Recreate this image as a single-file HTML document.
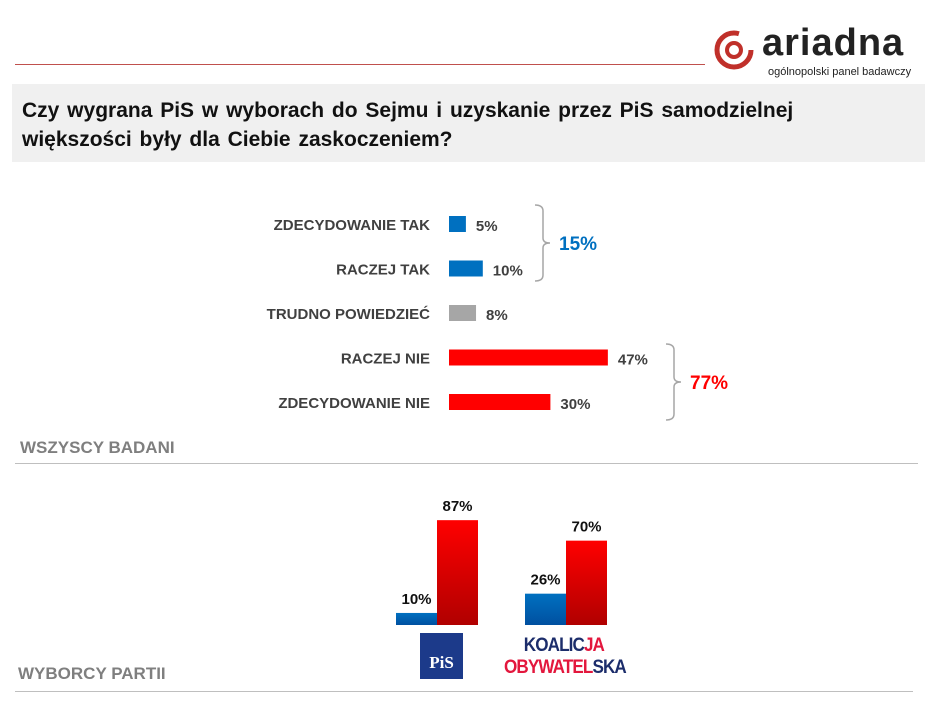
<!DOCTYPE html>
<html><head><meta charset="utf-8"><style>
body{margin:0;width:934px;height:704px;background:#fff;font-family:"Liberation Sans",sans-serif;overflow:hidden;position:relative}
.a{position:absolute}
</style></head><body>
<div class="a" style="left:15px;top:64px;width:690px;height:1px;background:#c0504d"></div>
<div class="a" style="left:712px;top:28px;width:215px;height:50px">
<svg width="50" height="46" style="position:absolute;left:0;top:0"><circle cx="22" cy="22" r="17" fill="none" stroke="#c0302a" stroke-width="5" stroke-dasharray="85 22"/><circle cx="22" cy="22" r="7" fill="none" stroke="#c0302a" stroke-width="4"/></svg>
<div class="a" style="left:50px;top:-6px;font-size:38px;font-weight:bold;color:#222;letter-spacing:1px">ariadna</div>
<div class="a" style="left:56px;top:38px;font-size:11px;color:#222">ogólnopolski panel badawczy</div>
</div>
<div class="a" style="left:12px;top:84px;width:913px;height:78px;background:#f0f0f0"></div>
<div class="a" style="left:22px;top:96px;width:900px;font-size:21px;font-weight:bold;color:#111;line-height:29px;word-spacing:2px">Czy wygrana PiS w wyborach do Sejmu i uzyskanie przez PiS samodzielnej<br>większości były dla Ciebie zaskoczeniem?</div>
<svg id="c1" class="a" style="left:0;top:0" width="934" height="704"></svg>
<div class="a" style="left:20px;top:438px;font-size:17px;font-weight:bold;color:#7f7f7f">WSZYSCY BADANI</div>
<div class="a" style="left:15px;top:463px;width:903px;height:1px;background:#bfbfbf"></div>
<div class="a" style="left:18px;top:664px;font-size:17px;font-weight:bold;color:#7f7f7f">WYBORCY PARTII</div>
<div class="a" style="left:15px;top:691px;width:898px;height:1px;background:#bfbfbf"></div>
<div class="a" style="left:420px;top:633px;width:43px;height:46px;background:#1c3a8a;color:#fff;font-family:'Liberation Serif',serif;font-weight:bold;font-size:17px;text-align:center;line-height:60px">PiS</div>
<div class="a" style="left:504px;top:635px;font-size:19px;font-weight:bold;line-height:22px;letter-spacing:-1px;transform:scaleX(0.9);transform-origin:left top"><span style="color:#1c2d6b;margin-left:22px">KOALIC</span><span style="color:#e3173d">JA</span><br><span style="color:#e3173d">OBYWATEL</span><span style="color:#1c2d6b">SKA</span></div>
<script>
const cats=["ZDECYDOWANIE  TAK","RACZEJ TAK","TRUDNO  POWIEDZIEĆ","RACZEJ NIE","ZDECYDOWANIE  NIE"];
const vals=[5,10,8,47,30];
const colors=["#0070c0","#0070c0","#a6a6a6","#ff0000","#ff0000"];
const groupTotals=[15,77];
const parties=["PiS","KO"];
const yesVals=[10,26];
const noVals=[87,70];
const ns="http://www.w3.org/2000/svg";
const svg=document.getElementById('c1');
function mk(t,a){const e=document.createElementNS(ns,t);for(const k in a)e.setAttribute(k,a[k]);svg.appendChild(e);return e;}
const x0=449,sx=3.38;
const yRow=i=>224+i*44.5;
cats.forEach((c,i)=>{
 const y=yRow(i);
 let r=mk('rect',{x:x0,y:y-8,width:vals[i]*sx,height:16,fill:colors[i]});
 
 
 let t=mk('text',{x:430,y:y+6,'text-anchor':'end','font-size':15,'font-weight':'bold',fill:'#404040','xml:space':'preserve'});t.textContent=c;
 
 
 let v=mk('text',{x:x0+vals[i]*sx+10,y:y+7,'font-size':15,'font-weight':'bold',fill:'#404040'});v.textContent=vals[i]+'%';
 
 
});
function brace(x,y1,y2,col,val){
 const ym=(y1+y2)/2;
 let p=mk('path',{d:`M${x-8},${y1} Q${x},${y1} ${x},${y1+6} L${x},${ym-5} Q${x},${ym} ${x+7},${ym} Q${x},${ym} ${x},${ym+5} L${x},${y2-6} Q${x},${y2} ${x-8},${y2}`,fill:'none',stroke:'#a6a6a6','stroke-width':1.5});
 
 
 let t=mk('text',{x:x+16,y:ym+7,'font-size':19,'font-weight':'bold',fill:col});t.textContent=val+'%';
 
 
}
brace(543,205,281,'#0070c0',groupTotals[0]);
brace(674,344,420,'#ff0000',groupTotals[1]);
const base=625,sy=1.205,bw=41,gx=[396,525];
const defs=mk('defs',{});
defs.innerHTML='<linearGradient id="gr" x1="0" y1="0" x2="0" y2="1"><stop offset="0" stop-color="#ff0000"/><stop offset="1" stop-color="#b00000"/></linearGradient><linearGradient id="gb" x1="0" y1="0" x2="0" y2="1"><stop offset="0" stop-color="#0070c0"/><stop offset="1" stop-color="#0050a0"/></linearGradient>';
parties.forEach((p,i)=>{
 const hy=yesVals[i]*sy,hn=noVals[i]*sy;
 let a=mk('rect',{x:gx[i],y:base-hy,width:bw,height:hy,fill:'url(#gb)'});
 
 
 let b=mk('rect',{x:gx[i]+bw,y:base-hn,width:bw,height:hn,fill:'url(#gr)'});
 
 
 let t1=mk('text',{x:gx[i]+bw/2,y:base-hy-9,'text-anchor':'middle','font-size':15,'font-weight':'bold',fill:'#111'});t1.textContent=yesVals[i]+'%';
 
 
 let t2=mk('text',{x:gx[i]+bw*1.5,y:base-hn-9,'text-anchor':'middle','font-size':15,'font-weight':'bold',fill:'#111'});t2.textContent=noVals[i]+'%';
 
 
});
</script>
</body></html>
